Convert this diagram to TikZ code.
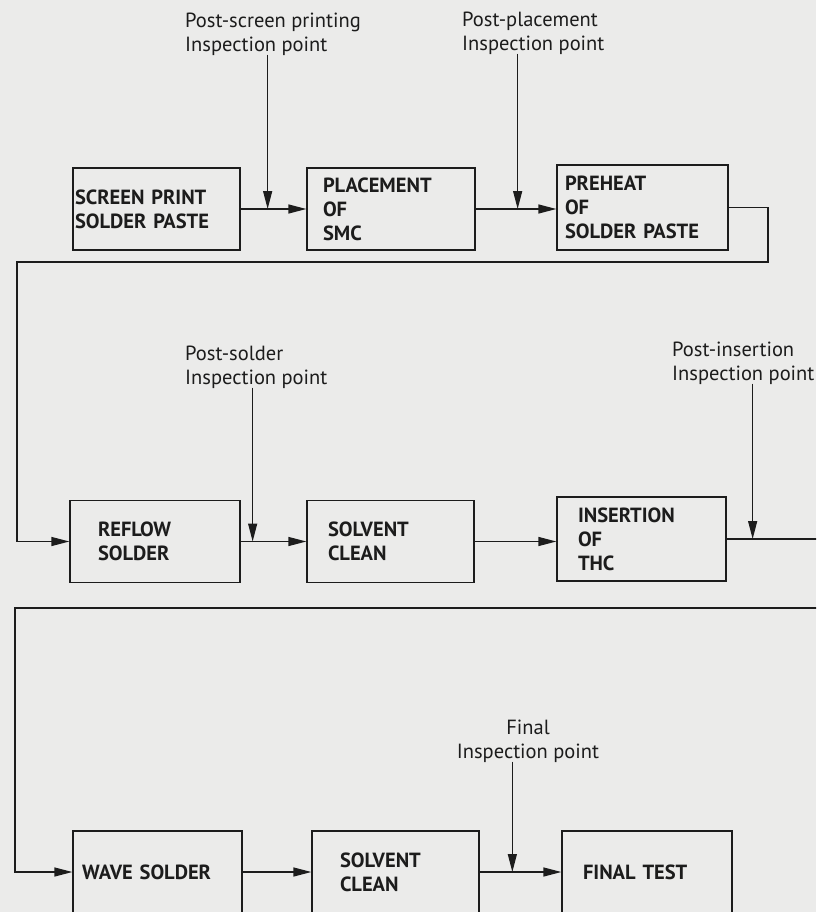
\documentclass[tikz,border=0pt]{standalone}
\usepackage{fontspec}
\setmainfont{PT Sans}
\usetikzlibrary{arrows.meta,positioning,calc}
\definecolor{papel}{HTML}{EBEBEA}
\definecolor{tinta}{HTML}{1C1C1C}

\tikzset{
  stage/.style={draw=tinta, line width=1.3pt, rectangle, minimum height=82pt,
    inner ysep=0pt, align=left, text=tinta,
    font=\bfseries\fontsize{20.5}{24}\selectfont},
  probe/.style={inner sep=0pt, text=tinta, font=\fontsize{20.5}{23.5}\selectfont},
  flow/.style={tinta, line width=1.3pt, -{Triangle[length=18pt,width=9pt]}},
}

\begin{document}
\begin{tikzpicture}[x=1pt,y=-1pt,line cap=round]
        \useasboundingbox (0,0) rectangle (816,912);
        \fill[papel] (0,0) rectangle (816,912);
        \clip (0,0) rectangle (816,912);

        % surface-mount line
        \node[stage, minimum width=167pt, text width=163pt, inner xsep=2pt]  (screen)    at (156.5,209) {SCREEN PRINT\\SOLDER PASTE};
        \node[stage, minimum width=168pt, text width=136pt, inner xsep=16pt] (placement) at (391,209)   {PLACEMENT\\OF\\SMC};
        \node[stage, minimum width=171pt, text width=155pt, inner xsep=8pt, minimum height=85pt] (preheat) at (642.5,207.5) {PREHEAT\\OF\\SOLDER PASTE};

        % reflow and through-hole line
        \node[stage, minimum width=170pt, text width=114pt, inner xsep=28pt] (reflow)    at (155,541.5) {REFLOW\\SOLDER};
        \node[stage, minimum width=167pt, text width=125pt, inner xsep=21pt] (solventA)  at (390.5,541.5) {SOLVENT\\CLEAN};
        \node[stage, minimum width=169pt, text width=127pt, inner xsep=21pt, minimum height=84pt] (insertion) at (641.5,539) {INSERTION\\OF\\THC};

        % wave solder line
        \node[stage, minimum width=169pt, text width=151pt, inner xsep=9pt]  (wave)      at (157.5,872) {WAVE SOLDER};
        \node[stage, minimum width=167pt, text width=111pt, inner xsep=28pt] (solventB)  at (395.5,872) {SOLVENT\\CLEAN};
        \node[stage, minimum width=170pt, text width=128pt, inner xsep=21pt] (finaltest) at (647,872)   {FINAL TEST};

        % inspection points
        \node[probe, anchor=north west, align=left]   (lab1) at (185,13)  {Post-screen printing\\Inspection point};
        \node[probe, anchor=north west, align=left]   (lab2) at (462,12)  {Post-placement\\Inspection point};
        \node[probe, anchor=north west, align=left]   (lab3) at (185,346) {Post-solder\\Inspection point};
        \node[probe, anchor=north west, align=left]   (lab4) at (672,342) {Post-insertion\\Inspection point};
        \node[probe, anchor=north, align=center]      (lab5) at (528,720) {Final\\Inspection point};

        \coordinate (ip1) at ($(screen.east)+(27,0)$);
        \coordinate (ip2) at ($(placement.east)+(42,0)$);
        \coordinate (ip3) at ($(reflow.east)+(12,0)$);
        \coordinate (ip4) at ($(insertion.east)+(26,0)$);
        \coordinate (ip5) at ($(finaltest.west)+(-49,0)$);

        \coordinate (t1) at (768,262);
        \coordinate (t2) at (17,262);
        \coordinate (t3) at (850,608);
        \coordinate (t4) at (15,608);

        \draw[flow] (screen.east) -- (placement.west);
        \draw[flow] (placement.east) -- (placement.east -| preheat.west);
        \draw[flow] (preheat.east) -| (t1) -- (t2) |- (reflow.west);
        \draw[flow] (reflow.east) -- (solventA.west);
        \draw[flow] (solventA.east) -- (solventA.east -| insertion.west);
        \draw[flow] (insertion.east) -| (t3) -- (t4) |- (wave.west);
        \draw[flow] (wave.east) -- (solventB.west);
        \draw[flow] (solventB.east) -- (finaltest.west);

        \foreach \l/\p in {lab1/ip1,lab2/ip2,lab3/ip3,lab4/ip4,lab5/ip5}{
          \draw[flow] (\l.south -| \p) -- (\p);
        }
      \end{tikzpicture}
\end{document}
